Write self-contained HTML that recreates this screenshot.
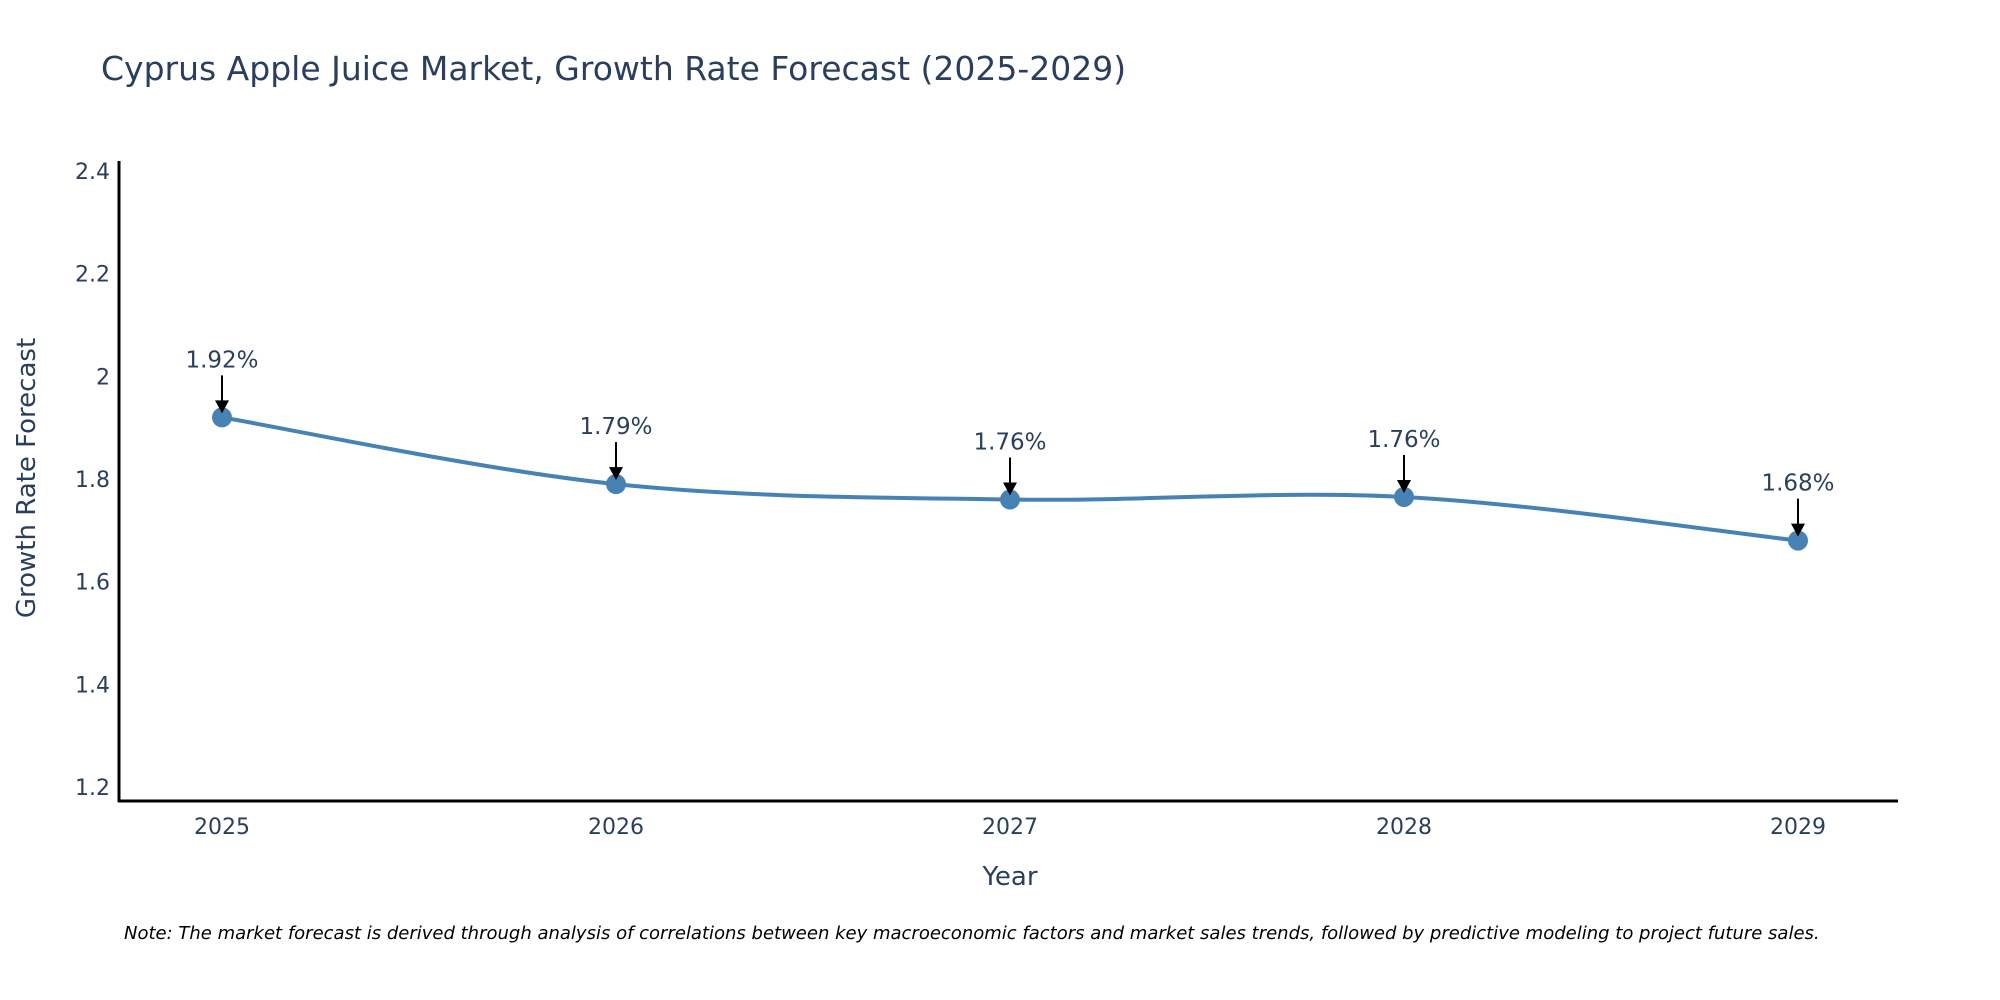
<!DOCTYPE html>
<html><head><meta charset="utf-8"><style>
body{margin:0;background:#fff;}
svg{display:block;font-family:"DejaVu Sans","Liberation Sans",sans-serif;}
</style></head><body>
<svg id="chart" width="2000" height="1000" viewBox="0 0 2000 1000">
<text x="101" y="80" font-size="33" fill="#2a3f5f">Cyprus Apple Juice Market, Growth Rate Forecast (2025-2029)</text>
<g id="yticks"></g>
<g id="xticks"></g>
<line x1="119" y1="161" x2="119" y2="802" stroke="#000" stroke-width="3"/>
<line x1="118" y1="801" x2="1898" y2="801" stroke="#000" stroke-width="3"/>
<text x="1010" y="885" font-size="26" fill="#2a3f5f" text-anchor="middle">Year</text>
<text transform="translate(35,478) rotate(-90)" font-size="26" fill="#2a3f5f" text-anchor="middle">Growth Rate Forecast</text>
<g id="series"></g>
<text x="124" y="939" font-size="18" font-style="italic" fill="#000">Note: The market forecast is derived through analysis of correlations between key macroeconomic factors and market sales trends, followed by predictive modeling to project future sales.</text>
</svg>
<script>
const years = ["2025","2026","2027","2028","2029"];
const values = [1.92, 1.79, 1.76, 1.765, 1.68];
const labels = ["1.92%","1.79%","1.76%","1.76%","1.68%"];
const yTicks = [1.2, 1.4, 1.6, 1.8, 2, 2.2, 2.4];

const NS = "http://www.w3.org/2000/svg";
const xPos = i => 222 + i * (1798 - 222) / (years.length - 1);
const yPos = v => 787 - (v - 1.2) / 1.2 * 616;
function mk(tag, attrs, parent){const e=document.createElementNS(NS,tag);for(const k in attrs)e.setAttribute(k,attrs[k]);parent.appendChild(e);return e;}

const yt = document.getElementById('yticks');
yTicks.forEach(t=>{
  const e = mk('text',{x:110,y:yPos(t)+8,'font-size':22,fill:'#2a3f5f','text-anchor':'end'},yt);
  
  
  e.textContent = String(t);
});
const xt = document.getElementById('xticks');
years.forEach((y,i)=>{
  const e = mk('text',{x:xPos(i),y:834,'font-size':22,fill:'#2a3f5f','text-anchor':'middle'},xt);
  
  
  e.textContent = y;
});

const g = document.getElementById('series');
const pts = values.map((v,i)=>[xPos(i),yPos(v)]);
let d = `M${pts[0][0]},${pts[0][1]}`;
for(let i=0;i<pts.length-1;i++){
  const p0=pts[Math.max(0,i-1)],p1=pts[i],p2=pts[i+1],p3=pts[Math.min(pts.length-1,i+2)];
  const s=1/3;
  const c1=[p1[0]+(p2[0]-p0[0])*s/2,p1[1]+(p2[1]-p0[1])*s/2];
  const c2=[p2[0]-(p3[0]-p1[0])*s/2,p2[1]-(p3[1]-p1[1])*s/2];
  d+=` C${c1[0]},${c1[1]} ${c2[0]},${c2[1]} ${p2[0]},${p2[1]}`;
}
const line = mk('path',{d:d,fill:'none',stroke:'#4682b4','stroke-width':4},g);


pts.forEach((p,i)=>{
  const c = mk('circle',{cx:p[0],cy:p[1],r:10,fill:'#4682b4'},g);
  
  
  const a = mk('line',{x1:p[0],y1:p[1]-42,x2:p[0],y2:p[1]-14,stroke:'#000','stroke-width':2},g);
  
  
  const h = mk('polygon',{points:`${p[0]-7},${p[1]-17} ${p[0]+7},${p[1]-17} ${p[0]},${p[1]-4}`,fill:'#000'},g);
  
  
  const t = mk('text',{x:p[0],y:p[1]-50,'font-size':23,fill:'#2a3f5f','text-anchor':'middle'},g);
  
  
  t.textContent = labels[i];
});
</script>
</body></html>
